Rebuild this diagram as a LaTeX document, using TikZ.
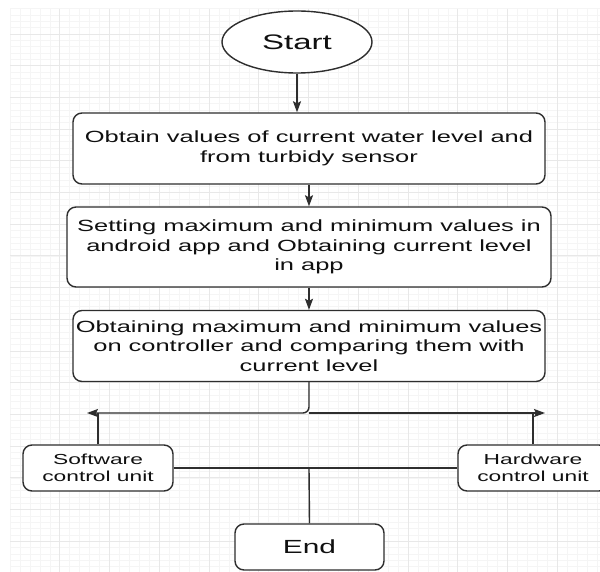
\documentclass[tikz,border=0pt]{standalone}
\usepackage{fontspec}
\setmainfont[FakeStretch=1.57]{Liberation Sans}
\usetikzlibrary{arrows.meta,shapes.geometric}
\definecolor{gridmajor}{HTML}{E8E8E8}
\definecolor{gridminor}{HTML}{F5F5F5}
\definecolor{edge}{HTML}{2E2E2E}
\definecolor{txt}{HTML}{101010}
\tikzset{
  box/.style={draw=edge, line width=1.4pt, rounded corners=9pt, fill=white, text=txt, align=center, inner sep=0pt},
  bigtxt/.style={font=\fontsize{16.2}{19.5}\selectfont},
  smalltxt/.style={font=\fontsize{14.5}{17}\selectfont},
  conn/.style={draw=edge, line width=1.4pt},
  arr/.style={conn, -{Stealth[length=11pt,width=8pt,inset=2pt]}}
}
\begin{document}
\begin{tikzpicture}[x=1pt,y=-1pt]
\useasboundingbox (0,0) rectangle (600,572);
\fill[white] (0,0) rectangle (600,572);
% grid
\begin{scope}
\clip (10,9) rectangle (600,572);
\foreach \i in {0,...,60} \draw[gridminor, line width=0.6pt] ({10+9.95*\i},9) -- ({10+9.95*\i},572);
\foreach \j in {0,...,90} \draw[gridminor, line width=0.6pt] (10,{2.3+6.34*\j}) -- (600,{2.3+6.34*\j});
\foreach \i in {1,...,12} \draw[gridmajor, line width=0.8pt] ({10+49.75*\i},9) -- ({10+49.75*\i},572);
\foreach \j in {1,...,18} \draw[gridmajor, line width=0.8pt] (10,{2.3+31.7*\j}) -- (600,{2.3+31.7*\j});
\end{scope}

\node[draw=edge, line width=1.4pt, ellipse, fill=white, text=txt, minimum width=150pt, minimum height=62pt, inner sep=0pt, font=\fontsize{21}{24}\selectfont] (start) at (297,42) {Start};
\node[box, bigtxt, minimum width=472pt, minimum height=71pt] (b1) at (309,148.5) {Obtain values of current water level and\\from turbidy sensor};
\node[box, bigtxt, minimum width=484pt, minimum height=80pt] (b2) at (309,247) {Setting maximum and minimum values in\\android app and Obtaining current level\\in app};
\node[box, bigtxt, minimum width=472pt, minimum height=71pt] (b3) at (309,346) {Obtaining maximum and minimum values\\on controller and comparing them with\\current level};
\node[box, smalltxt, minimum width=150pt, minimum height=46pt] (sw) at (98,468) {Software\\control unit};
\node[box, smalltxt, minimum width=150pt, minimum height=46pt] (hw) at (533,468) {Hardware\\control unit};
\node[box, font=\fontsize{19}{22}\selectfont, minimum width=149pt, minimum height=46pt] (end) at (309.5,547) {End};

\coordinate (la) at (87,413);
\coordinate (ra) at (545,413);
\coordinate (split) at (309,413);
\coordinate (join) at (309,468);

\draw[arr] (start.south) -- (start.south |- b1.north);
\draw[arr] (b1.south) -- (b2.north);
\draw[arr] (b2.south) -- (b3.north);
\draw[arr, rounded corners=6pt] (b3.south) -- (split) -- (la);
\draw[arr] (split) -- (ra);
\draw[conn] (sw.north) -- (sw.north |- la);
\draw[conn] (hw.north) -- (hw.north |- ra);
\draw[conn] (sw.east) -- (hw.west);
\draw[conn] (join) -- (end.north);
\end{tikzpicture}
\end{document}
